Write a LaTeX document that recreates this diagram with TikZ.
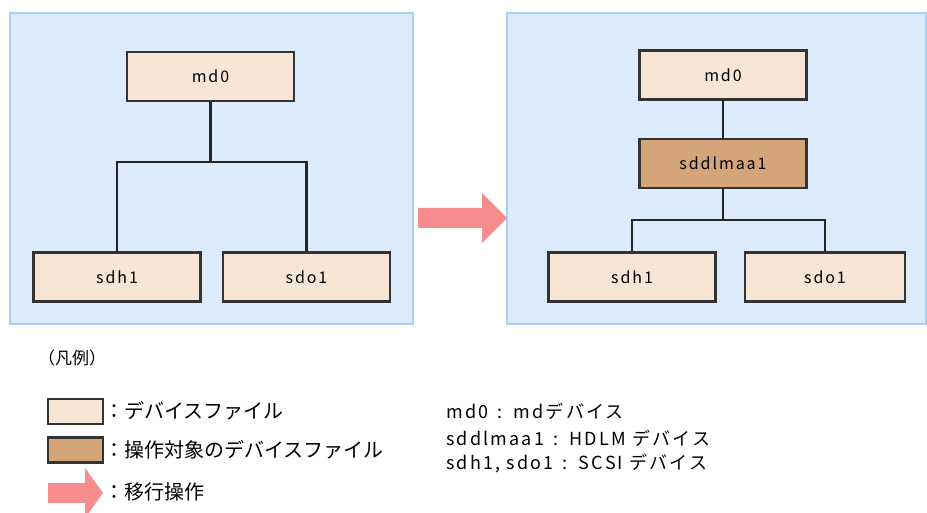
\documentclass[tikz,border=0pt]{standalone}
\usepackage{fontspec}
\setmainfont{Noto Sans CJK JP}
\newfontfamily\widejp[LetterSpace=12]{Noto Sans CJK JP}
\definecolor{panelfill}{RGB}{221,236,252}
\definecolor{paneldraw}{RGB}{170,205,245}
\definecolor{devfill}{RGB}{247,230,214}
\definecolor{tgtfill}{RGB}{212,165,120}
\definecolor{movepink}{RGB}{246,140,140}
\tikzset{
  devbox/.style={draw=black!80, line width=2.2pt, fill=devfill, minimum width=167pt, minimum height=49pt, font=\widejp\fontsize{16}{19}\selectfont},
  tgtbox/.style={devbox, fill=tgtfill},
  keybox/.style={draw=black!80, line width=2.2pt, fill=devfill, minimum width=55pt, minimum height=25pt},
  link/.style={line width=2.2pt, black!85},
  legtext/.style={anchor=west, inner sep=0pt, font=\fontsize{20}{24}\selectfont},
  note/.style={anchor=west, inner sep=0pt, font=\widejp\fontsize{18}{21}\selectfont}
}
\begin{document}
\begin{tikzpicture}[x=1pt,y=-1pt]
\useasboundingbox (0,0) rectangle (927,513);
% panels
\filldraw[fill=panelfill, draw=paneldraw, line width=1.4pt] (10,13) rectangle (413,324);
\filldraw[fill=panelfill, draw=paneldraw, line width=1.4pt] (507,13) rectangle (926,324);
% before
\node[devbox] (md0L) at (210.5,76.5) {md0};
\node[devbox] (sdh1L) at (117,277) {sdh1};
\node[devbox] (sdo1L) at (306.5,277) {sdo1};
\coordinate (jL) at (210.5,162);
\draw[link] (md0L.south) -- (jL);
\draw[link] (sdh1L.north) |- (jL) -| (sdo1L.north);
% move
\fill[movepink] (418,208) -- (482,208) -- (482,193) -- (507,218) -- (482,243) -- (482,228) -- (418,228) -- cycle;
% after
\node[devbox] (md0R) at (723,75) {md0};
\node[tgtbox] (sddl) at (723,163.5) {sddlmaa1};
\node[devbox] (sdh1R) at (632,277) {sdh1};
\node[devbox, minimum width=160pt] (sdo1R) at (825,277) {sdo1};
\coordinate (jR) at (723,220);
\draw[link] (md0R) -- (sddl);
\draw[link] (sddl.south) -- (jR);
\draw[link] (sdh1R.north) |- (jR) -| (sdo1R.north);
% legend
\node[anchor=west, inner sep=0pt, font=\fontsize{17}{20}\selectfont] (legtitle) at (38,358) {（凡例）};
\node[keybox] (keydev) at (75.5,411.5) {};
\node[keybox, fill=tgtfill] (keytgt) at (75.5,450) {};
\fill[movepink] (48,483) -- (85,483) -- (85,468) -- (103,493) -- (85,518) -- (85,503) -- (48,503) -- cycle;
\node[legtext] (txtdev) at (104,411) {：デバイスファイル};
\node[legtext] (txttgt) at (104,450) {：操作対象のデバイスファイル};
\node[legtext] (txtmove) at (104,492) {：移行操作};
\node[note] (n1) at (446,411) {md0 \,:\, mdデバイス};
\node[note] (n2) at (446,438) {sddlmaa1 \,:\, HDLM デバイス};
\node[note] (n3) at (446,464) {sdh1, sdo1 \,:\, SCSI デバイス};
\end{tikzpicture}
\end{document}
